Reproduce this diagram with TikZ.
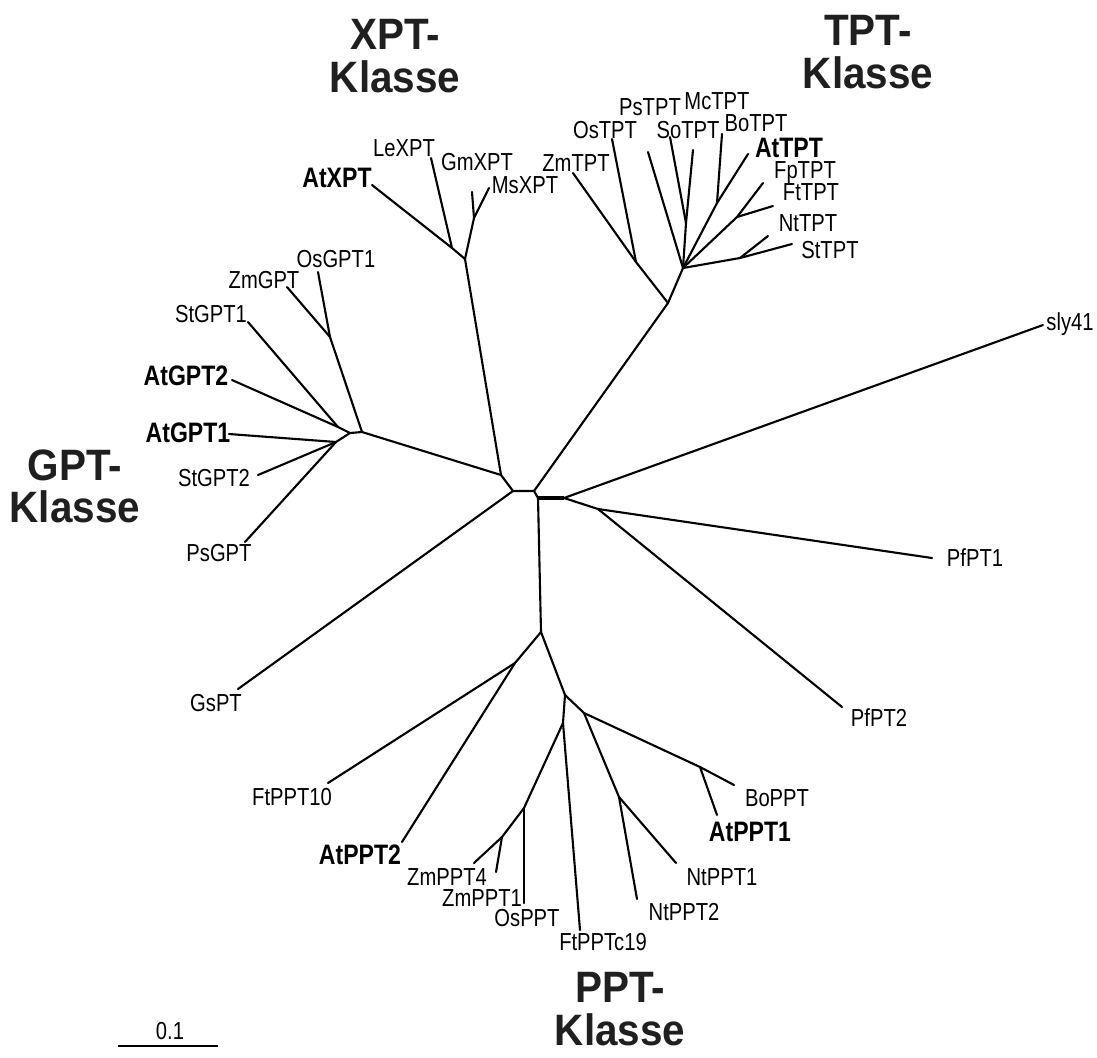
\documentclass[tikz,border=0pt]{standalone}
\usepackage{fontspec}
\newfontfamily\leaffont[FakeStretch=0.82]{Liberation Sans}
\newfontfamily\cladefont[FakeStretch=0.92]{Liberation Sans}
\begin{document}
\begin{tikzpicture}[x=0.01cm, y=-0.01cm]
        \tikzset{
            branch/.style={line width=0.6pt, line cap=round, line join=round},
            stem/.style={line width=1.2pt},
            leaf/.style={
                    font=\leaffont\fontsize{7}{8}\selectfont,
                    inner sep=0pt,
                    text depth=0pt,
                },
            leafbold/.style={leaf, font=\leaffont\bfseries\fontsize{8}{9}\selectfont},
            clade/.style={
                    font=\cladefont\bfseries\fontsize{12.5}{12}\selectfont,
                    align=center,
                    text=black!88,
                    inner sep=0pt,
                },
        }
        \useasboundingbox (0,0) rectangle (1097,1057);
        % \draw (0, 0) grid[step=100] (1097, 1057);

        % inner nodes
        \coordinate (cx) at (501, 475);
        \coordinate (c1) at (513, 491);
        \coordinate (c2) at (534, 491);
        \coordinate (c3) at (538, 498);
        \coordinate (c4) at (564, 498);
        \coordinate (c5) at (598, 509);
        \coordinate (x0) at (465, 259);
        \coordinate (xa) at (452, 248);
        \coordinate (xb) at (474, 218);
        \coordinate (t0) at (668, 303);
        \coordinate (t1) at (636, 262);
        \coordinate (t2) at (683, 268);
        \coordinate (t3) at (686, 223);
        \coordinate (t4) at (717, 203);
        \coordinate (t5) at (737, 217);
        \coordinate (t6) at (740, 258);
        \coordinate (g0) at (362, 432);
        \coordinate (g1) at (330, 337);
        \coordinate (g2) at (350, 433);
        \coordinate (g3) at (338, 427);
        \coordinate (g4) at (336, 442);
        \coordinate (p1) at (541, 632);
        \coordinate (p2) at (515, 663);
        \coordinate (p3) at (565, 695);
        \coordinate (p4) at (563, 723);
        \coordinate (p5) at (524, 808);
        \coordinate (p6) at (502, 837);
        \coordinate (p7) at (584, 713);
        \coordinate (p8) at (619, 797);
        \coordinate (p9) at (700, 767);

        % leaf tips
        \coordinate (AtXPT) at (372, 185);
        \coordinate (LeXPT) at (431, 158);
        \coordinate (GmXPT) at (472, 192);
        \coordinate (MsXPT) at (489, 188);
        \coordinate (ZmTPT) at (573, 173);
        \coordinate (OsTPT) at (612, 139);
        \coordinate (PsTPT) at (648, 152);
        \coordinate (SoTPT) at (670, 137);
        \coordinate (McTPT) at (693, 150);
        \coordinate (BoTPT) at (722, 134);
        \coordinate (AtTPT) at (748, 154);
        \coordinate (FpTPT) at (763, 183);
        \coordinate (FtTPT) at (773, 206);
        \coordinate (NtTPT) at (768, 236);
        \coordinate (StTPT) at (792, 244);
        \coordinate (OsGPT1) at (318, 272);
        \coordinate (ZmGPT) at (287, 287);
        \coordinate (StGPT1) at (248, 322);
        \coordinate (AtGPT2) at (232, 380);
        \coordinate (AtGPT1) at (229, 434);
        \coordinate (StGPT2) at (258, 475);
        \coordinate (PsGPT) at (245, 542);
        \coordinate (GsPT) at (238, 689);
        \coordinate (sly41) at (1043, 325);
        \coordinate (PfPT1) at (932, 558);
        \coordinate (PfPT2) at (842, 707);
        \coordinate (FtPPT10) at (328, 783);
        \coordinate (AtPPT2) at (402, 842);
        \coordinate (ZmPPT4) at (474, 863);
        \coordinate (ZmPPT1) at (496, 872);
        \coordinate (OsPPT) at (524, 903);
        \coordinate (FtPPTc19) at (580, 930);
        \coordinate (NtPPT2) at (637, 899);
        \coordinate (NtPPT1) at (676, 863);
        \coordinate (AtPPT1) at (717, 815);
        \coordinate (BoPPT) at (734, 785);

        % backbone
        \draw[branch] (g0) -- (cx) -- (c1) -- (c2) -- (c3) -- (p1);
        \draw[branch] (cx) -- (x0);
        \draw[branch] (c1) -- (GsPT);
        \draw[branch] (c2) -- (t0);
        \draw[stem] (c3) -- (c4);
        \draw[branch] (c4) edge (sly41) edge (c5);
        \draw[branch] (c5) edge (PfPT1) edge (PfPT2);

        % XPT
        \draw[branch] (x0) -- (xa) -- (AtXPT);
        \draw[branch] (xa) -- (LeXPT);
        \draw[branch] (x0) -- (xb) -- (MsXPT);
        \draw[branch] (xb) -- (GmXPT);

        % TPT
        \draw[branch] (t0) edge (t1) edge (t2);
        \draw[branch] (t1) edge (ZmTPT) edge (OsTPT);
        \draw[branch] (t2) edge (PsTPT) edge (t3) edge (t4) edge (t5) edge (t6);
        \draw[branch] (t3) edge (SoTPT) edge (McTPT);
        \draw[branch] (t4) edge (BoTPT) edge (AtTPT);
        \draw[branch] (t5) edge (FpTPT) edge (FtTPT);
        \draw[branch] (t6) edge (NtTPT) edge (StTPT);

        % GPT
        \draw[branch] (g0) edge (g1) edge (g2);
        \draw[branch] (g1) edge (OsGPT1) edge (ZmGPT);
        \draw[branch] (g2) edge (g3) edge (g4);
        \draw[branch] (g3) edge (StGPT1) edge (AtGPT2);
        \draw[branch] (g4) edge (AtGPT1) edge (StGPT2) edge (PsGPT);

        % PPT
        \draw[branch] (p1) edge (p2) edge (p3);
        \draw[branch] (p2) edge (FtPPT10) edge (AtPPT2);
        \draw[branch] (p3) edge (p4) edge (p7);
        \draw[branch] (p4) edge (FtPPTc19) edge (p5);
        \draw[branch] (p5) edge (OsPPT) edge (p6);
        \draw[branch] (p6) edge (ZmPPT4) edge (ZmPPT1);
        \draw[branch] (p7) edge (p8) edge (p9);
        \draw[branch] (p8) edge (NtPPT1) edge (NtPPT2);
        \draw[branch] (p9) edge (BoPPT) edge (AtPPT1);

        % labels
        \node[leafbold] (lAtXPT) at (337, 178) {AtXPT};
        \node[leaf] (lLeXPT) at (404, 148) {LeXPT};
        \node[leaf] (lGmXPT) at (477, 162) {GmXPT};
        \node[leaf] (lMsXPT) at (525, 185) {MsXPT};
        \node[leaf] (lZmTPT) at (576, 163) {ZmTPT};
        \node[leaf] (lOsTPT) at (605, 130) {OsTPT};
        \node[leaf] (lPsTPT) at (650, 107) {PsTPT};
        \node[leaf] (lMcTPT) at (717, 101) {McTPT};
        \node[leaf] (lSoTPT) at (688, 130) {SoTPT};
        \node[leaf] (lBoTPT) at (756, 123) {BoTPT};
        \node[leafbold] (lAtTPT) at (789, 148) {AtTPT};
        \node[leaf] (lFpTPT) at (805, 170) {FpTPT};
        \node[leaf] (lFtTPT) at (811, 192) {FtTPT};
        \node[leaf] (lNtTPT) at (808, 223) {NtTPT};
        \node[leaf] (lStTPT) at (830, 250) {StTPT};
        \node[leaf] (lOsGPT1) at (336, 259) {OsGPT1};
        \node[leaf] (lZmGPT) at (264, 280) {ZmGPT};
        \node[leaf] (lStGPT1) at (211, 314) {StGPT1};
        \node[leafbold] (lAtGPT2) at (186, 376) {AtGPT2};
        \node[leafbold] (lAtGPT1) at (188, 433) {AtGPT1};
        \node[leaf] (lStGPT2) at (214, 478) {StGPT2};
        \node[leaf] (lPsGPT) at (219, 553) {PsGPT};
        \node[leaf] (lGsPT) at (216, 703) {GsPT};
        \node[leaf] (lsly41) at (1070, 322) {sly41};
        \node[leaf] (lPfPT1) at (975, 558) {PfPT1};
        \node[leaf] (lPfPT2) at (879, 718) {PfPT2};
        \node[leaf] (lFtPPT10) at (292, 797) {FtPPT10};
        \node[leafbold] (lAtPPT2) at (360, 855) {AtPPT2};
        \node[leaf] (lZmPPT4) at (447, 877) {ZmPPT4};
        \node[leaf] (lZmPPT1) at (482, 898) {ZmPPT1};
        \node[leaf] (lOsPPT) at (527, 918) {OsPPT};
        \node[leaf] (lFtPPTc19) at (603, 942) {FtPPTc19};
        \node[leaf] (lNtPPT2) at (684, 912) {NtPPT2};
        \node[leaf] (lNtPPT1) at (722, 877) {NtPPT1};
        \node[leafbold] (lAtPPT1) at (750, 832) {AtPPT1};
        \node[leaf] (lBoPPT) at (777, 798) {BoPPT};

        % clade names
        \node[clade] (xpt) at (395, 56) {XPT-\\Klasse};
        \node[clade] (tpt) at (868, 52) {TPT-\\Klasse};
        \node[clade] (gpt) at (75, 486) {GPT-\\Klasse};
        \node[clade] (ppt) at (620, 1009) {PPT-\\Klasse};

        % scale bar
        \coordinate (bar0) at (118, 1046);
        \coordinate (bar1) at (218, 1046);
        \draw[branch, line cap=butt] (bar0) -- (bar1);
        \node[leaf] (barlabel) at (170, 1031) {0.1};
    \end{tikzpicture}
\end{document}
